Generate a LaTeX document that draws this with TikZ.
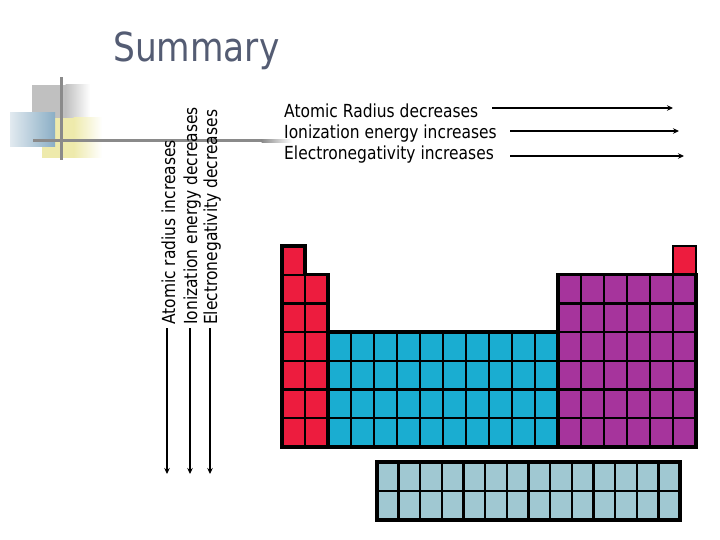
\documentclass[tikz,border=0pt]{standalone}
\usepackage{fontspec}
\setmainfont{DejaVu Sans}[FakeStretch=0.86]
\usetikzlibrary{arrows.meta}
\definecolor{pred}{RGB}{237,28,62}
\definecolor{pblue}{RGB}{26,173,209}
\definecolor{ppurple}{RGB}{166,52,156}
\definecolor{plan}{RGB}{160,200,210}
\definecolor{titlecol}{RGB}{84,92,115}
\definecolor{decgray}{RGB}{192,192,192}
\definecolor{decblue}{RGB}{138,174,197}
\definecolor{decblueL}{RGB}{226,234,240}
\definecolor{decyellow}{RGB}{238,234,172}
\definecolor{linegray}{RGB}{138,138,138}
\begin{document}
\begin{tikzpicture}[x=1pt,y=-1pt,
  lbl/.style={inner sep=0pt,font=\fontsize{18}{21}\selectfont},
  arr/.style={line width=2.1pt,-{Stealth[length=6pt,width=5.5pt]}},
  cell/.style={draw=black,line width=2.3pt},
  blockline/.style={draw=black,line width=3.4pt,line join=miter}]
\useasboundingbox (0,0) rectangle (720,540);
% decoration
\fill[decgray] (32,85) rectangle (66,118);
\shade[left color=decgray,right color=white] (65.5,85) rectangle (90,118);
\fill[decyellow] (42,118) rectangle (74,158);
\shade[left color=decyellow,right color=white] (73.5,118) rectangle (102,158);
\shade[left color=decblueL,right color=decblue] (10,113) rectangle (55,147);
\fill[linegray] (59.5,77) rectangle (62.5,160);
\fill[linegray] (33,139.5) rectangle (262,142.5);
\shade[left color=linegray,right color=white] (261.5,139.5) rectangle (292,142.5);
% title
\node[inner sep=0pt,anchor=base west,text=titlecol,font=\fontsize{40}{48}\selectfont] (title) at (113,62) {Summary};
% vertical labels
\node[lbl,rotate=90,anchor=base west] (v1) at (175,325) {Atomic radius increases};
\node[lbl,rotate=90,anchor=base west] (v2) at (197,325) {Ionization energy decreases};
\node[lbl,rotate=90,anchor=base west] (v3) at (217,325) {Electronegativity decreases};
\coordinate (v1s) at (167,328); \coordinate (v1e) at (167,474);
\coordinate (v2s) at (190,328); \coordinate (v2e) at (190,474);
\coordinate (v3s) at (210,328); \coordinate (v3e) at (210,474);
\draw[arr] (v1s) -- (v1e);
\draw[arr] (v2s) -- (v2e);
\draw[arr] (v3s) -- (v3e);
% horizontal labels
\node[lbl,anchor=base west] (h1) at (284,118) {Atomic Radius decreases};
\node[lbl,anchor=base west] (h2) at (284,139) {Ionization energy increases};
\node[lbl,anchor=base west] (h3) at (284,160) {Electronegativity increases};
\coordinate (h1s) at (492,108); \coordinate (h1e) at (673,108);
\coordinate (h2s) at (510,131); \coordinate (h2e) at (679,131);
\coordinate (h3s) at (510,156); \coordinate (h3e) at (684,156);
\draw[arr] (h1s) -- (h1e);
\draw[arr] (h2s) -- (h2e);
\draw[arr] (h3s) -- (h3e);
% periodic table: cols of 23, rows of 28.7 from (282,246)
\def\cw{23}\def\rh{28.7}
\foreach \c in {1,2} \foreach \r in {2,...,7}
  \draw[cell,fill=pred] ({282+\cw*(\c-1)},{246+\rh*(\r-1)}) rectangle ++(\cw,\rh);
\draw[cell,fill=pred] (282,246) rectangle ++(\cw,\rh);
\draw[cell,fill=pred] ({282+\cw*17},246) rectangle ++(\cw,\rh);
\foreach \c in {3,...,12} \foreach \r in {4,...,7}
  \draw[cell,fill=pblue] ({282+\cw*(\c-1)},{246+\rh*(\r-1)}) rectangle ++(\cw,\rh);
\foreach \c in {13,...,18} \foreach \r in {2,...,7}
  \draw[cell,fill=ppurple] ({282+\cw*(\c-1)},{246+\rh*(\r-1)}) rectangle ++(\cw,\rh);
% block outlines
\draw[blockline] (282,246) -- (305,246) -- (305,274.7) -- (328,274.7) -- (328,446.9) -- (282,446.9) -- cycle;
\draw[blockline] (328,332.1) -- (558,332.1) -- (558,446.9) -- (328,446.9);
\draw[blockline] (558,274.7) -- (696,274.7) -- (696,446.9) -- (558,446.9) -- cycle;
% lanthanides
\foreach \c in {1,...,14} \foreach \r in {1,2}
  \draw[cell,fill=plan] ({377+21.643*(\c-1)},{462+29*(\r-1)}) rectangle ++(21.643,29);
\draw[blockline] (377,462) rectangle (680,520);
\end{tikzpicture}
\end{document}
